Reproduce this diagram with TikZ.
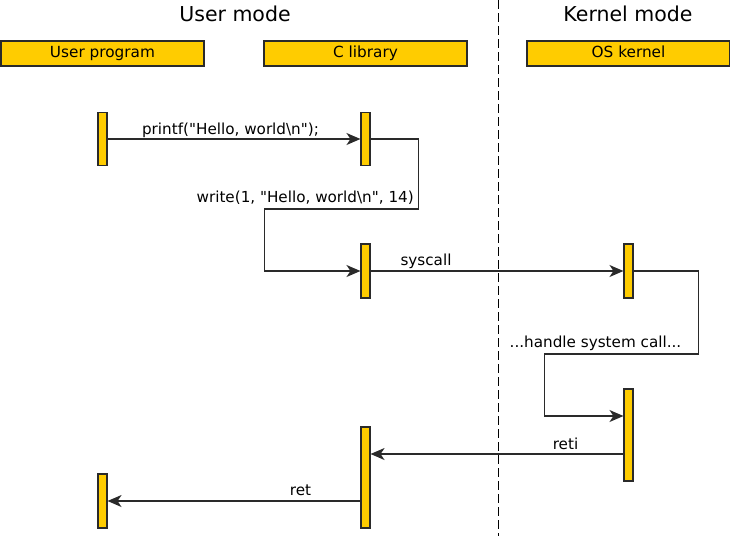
\documentclass[tikz,border=0pt]{standalone}
\usepackage{fontspec}
\setmainfont{DejaVu Sans}[Ligatures=TeXOff]
\usetikzlibrary{arrows.meta}
\definecolor{barfill}{HTML}{FFCC00}
\definecolor{linec}{HTML}{2A2A2A}
\begin{document}
\begin{tikzpicture}[x=1pt,y=-1pt,
  head/.style={draw=linec,line width=1.1pt,fill=barfill,minimum width=203pt,minimum height=25pt,inner sep=0pt,text height=8.6pt,text depth=0pt,font=\fontsize{15.3}{18}\selectfont},
  bar/.style={draw=linec,line width=1.1pt,fill=barfill,minimum width=9pt,inner sep=0pt},
  title/.style={font=\fontsize{20.5}{24}\selectfont,anchor=base},
  lbl/.style={font=\fontsize{15.2}{18}\selectfont,anchor=base,inner sep=0pt},
  msg/.style={draw=linec,line width=1.2pt,-{Stealth[length=14pt,width=12pt,inset=4pt]}},
  sep/.style={draw=black,line width=1pt,dash pattern=on 9pt off 4pt}]
\useasboundingbox (0,0) rectangle (730,536);
% separator
\coordinate (st) at (498,0);
\coordinate (sb) at (498,536);
\draw[sep] (st) -- (sb);
% titles
\node[title] (tu) at (235,21) {User mode};
\node[title] (tk) at (628,21) {Kernel mode};
% headers
\node[head] (hu) at (102.5,53.5) {User program};
\node[head] (hc) at (365.5,53.5) {C library};
\node[head] (hk) at (628.5,53.5) {OS kernel};
% activation bars
\node[bar,minimum height=53pt] (u1) at (102.5,139) {};
\node[bar,minimum height=53pt] (c1) at (365.5,139) {};
\node[bar,minimum height=54pt] (c2) at (365.5,271) {};
\node[bar,minimum height=54pt] (k1) at (628.5,271) {};
\node[bar,minimum height=92pt] (k2) at (628.5,435) {};
\node[bar,minimum height=101pt] (c3) at (365.5,477.5) {};
\node[bar,minimum height=54pt] (u2) at (102.5,501) {};
% messages
\draw[msg] (u1.east) -- (c1.west);
\draw[msg] (c1.east) -- ++(48,0) -- ++(0,70) -- ++(-154,0) |- (c2.west);
\draw[msg] (c2.east) -- (k1.west);
\draw[msg] (k1.east) -- ++(65,0) -- ++(0,83) -- ++(-154,0) |- ([yshift=19pt]k2.west);
\draw[msg] ([yshift=-19pt]k2.west) -- ([yshift=23.5pt]c3.east);
\draw[msg] ([yshift=-23.5pt]c3.west) -- (u2.east);
% labels
\node[lbl] (l1) at (230.5,134) {printf("Hello, world\textbackslash n");};
\node[lbl,anchor=base east] (l2) at (414,202) {write(1, "Hello, world\textbackslash n", 14)};
\node[lbl] (l3) at (426,265.5) {syscall};
\node[lbl] (l4) at (595.5,347.5) {...handle system call...};
\node[lbl] (l5) at (565.5,449) {reti};
\node[lbl] (l6) at (300.5,495) {ret};
\end{tikzpicture}
\end{document}
